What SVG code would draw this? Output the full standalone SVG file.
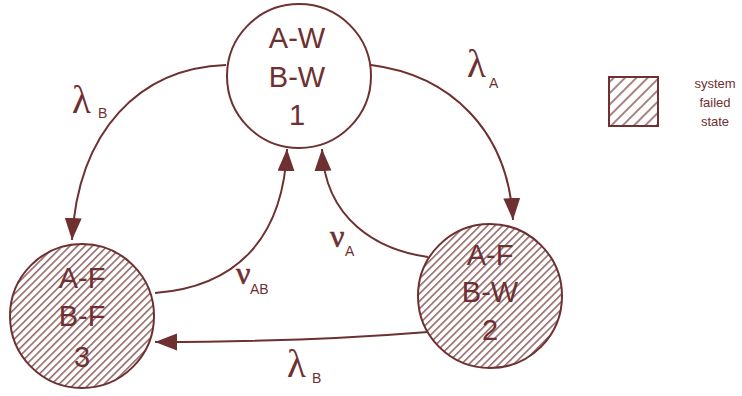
<svg xmlns="http://www.w3.org/2000/svg" width="742" height="396" viewBox="0 0 742 396">
<style>
.n{fill:#fff;stroke:#6e3030;stroke-width:2}
.h{fill:url(#hatch);stroke:#6e3030;stroke-width:2}
.t{font-family:"Liberation Sans",Arial,sans-serif;font-size:29px;fill:#6e3030;text-anchor:middle}
.g{font-family:"Liberation Serif","DejaVu Serif",serif;font-size:39px;fill:#6e3030}
.v{font-family:"Liberation Serif","DejaVu Serif",serif;font-size:32px;fill:#6e3030;stroke:#6e3030;stroke-width:0.6}
.s{font-family:"Liberation Sans",Arial,sans-serif;font-size:14px;fill:#6e3030}
.l{font-family:"Liberation Sans",Arial,sans-serif;font-size:13px;fill:#6e3030;text-anchor:middle}
.c{fill:none;stroke:#6e3030;stroke-width:2}
</style>
<defs>
<pattern id="hatch" patternUnits="userSpaceOnUse" width="5.3" height="5.3" patternTransform="rotate(45)">
<rect width="5.3" height="5.3" fill="#fff"/>
<line x1="0.8" y1="0" x2="0.8" y2="5.3" stroke="#6e3030" stroke-width="1.15"/>
</pattern>
<pattern id="hatch2" patternUnits="userSpaceOnUse" width="8" height="8" patternTransform="rotate(45)">
<rect width="8" height="8" fill="#fff"/>
<line x1="1" y1="0" x2="1" y2="8" stroke="#6e3030" stroke-width="1.2"/>
</pattern>
<marker id="arr" markerUnits="userSpaceOnUse" markerWidth="22" markerHeight="18" refX="22" refY="8.5" orient="auto">
<path d="M0,0 L22,8.5 L0,17 Z" fill="#6e3030"/>
</marker>
</defs>
<g id="connectors">
<path class="c" d="M226,65 C140,68 78,130 72,240" marker-end="url(#arr)"/>
<path class="c" d="M371,65 C450,75 508,130 513,220" marker-end="url(#arr)"/>
<path class="c" d="M155,293 C235,287 283,240 287,149" marker-end="url(#arr)"/>
<path class="c" d="M428,257 C378,250 325,220 322,149" marker-end="url(#arr)"/>
<path class="c" d="M428,332 C330,340 250,342 155,342" marker-end="url(#arr)"/>
<text class="g" x="72" y="113">λ</text><text class="s" x="98" y="118">B</text>
<text class="g" x="467" y="77">λ</text><text class="s" x="489" y="88">A</text>
<text class="v" x="236" y="284">ν</text><text class="s" x="250" y="294">AB</text>
<text class="v" x="330" y="247">ν</text><text class="s" x="345" y="256">A</text>
<text class="g" x="287" y="377">λ</text><text class="s" x="312" y="383">B</text>
</g>
<g id="node1">
<circle class="n" cx="299" cy="76" r="72"/>
<text class="t" x="297" y="48">A-W</text>
<text class="t" x="297" y="87">B-W</text>
<text class="t" x="297" y="125">1</text>
</g>
<g id="node2">
<circle class="h" cx="490" cy="296" r="72"/>
<text class="t" x="490" y="265">A-F</text>
<text class="t" x="490" y="302">B-W</text>
<text class="t" x="490" y="340">2</text>
</g>
<g id="node3">
<circle class="h" cx="82" cy="316" r="72"/>
<text class="t" x="82" y="288">A-F</text>
<text class="t" x="82" y="326">B-F</text>
<text class="t" x="82" y="367">3</text>
</g>
<g id="legend">
<rect x="609" y="77" width="49" height="49" fill="url(#hatch2)" stroke="#6e3030" stroke-width="2"/>
<text class="l" x="715" y="88">system</text>
<text class="l" x="715" y="107">failed</text>
<text class="l" x="715" y="126">state</text>
</g>
</svg>
